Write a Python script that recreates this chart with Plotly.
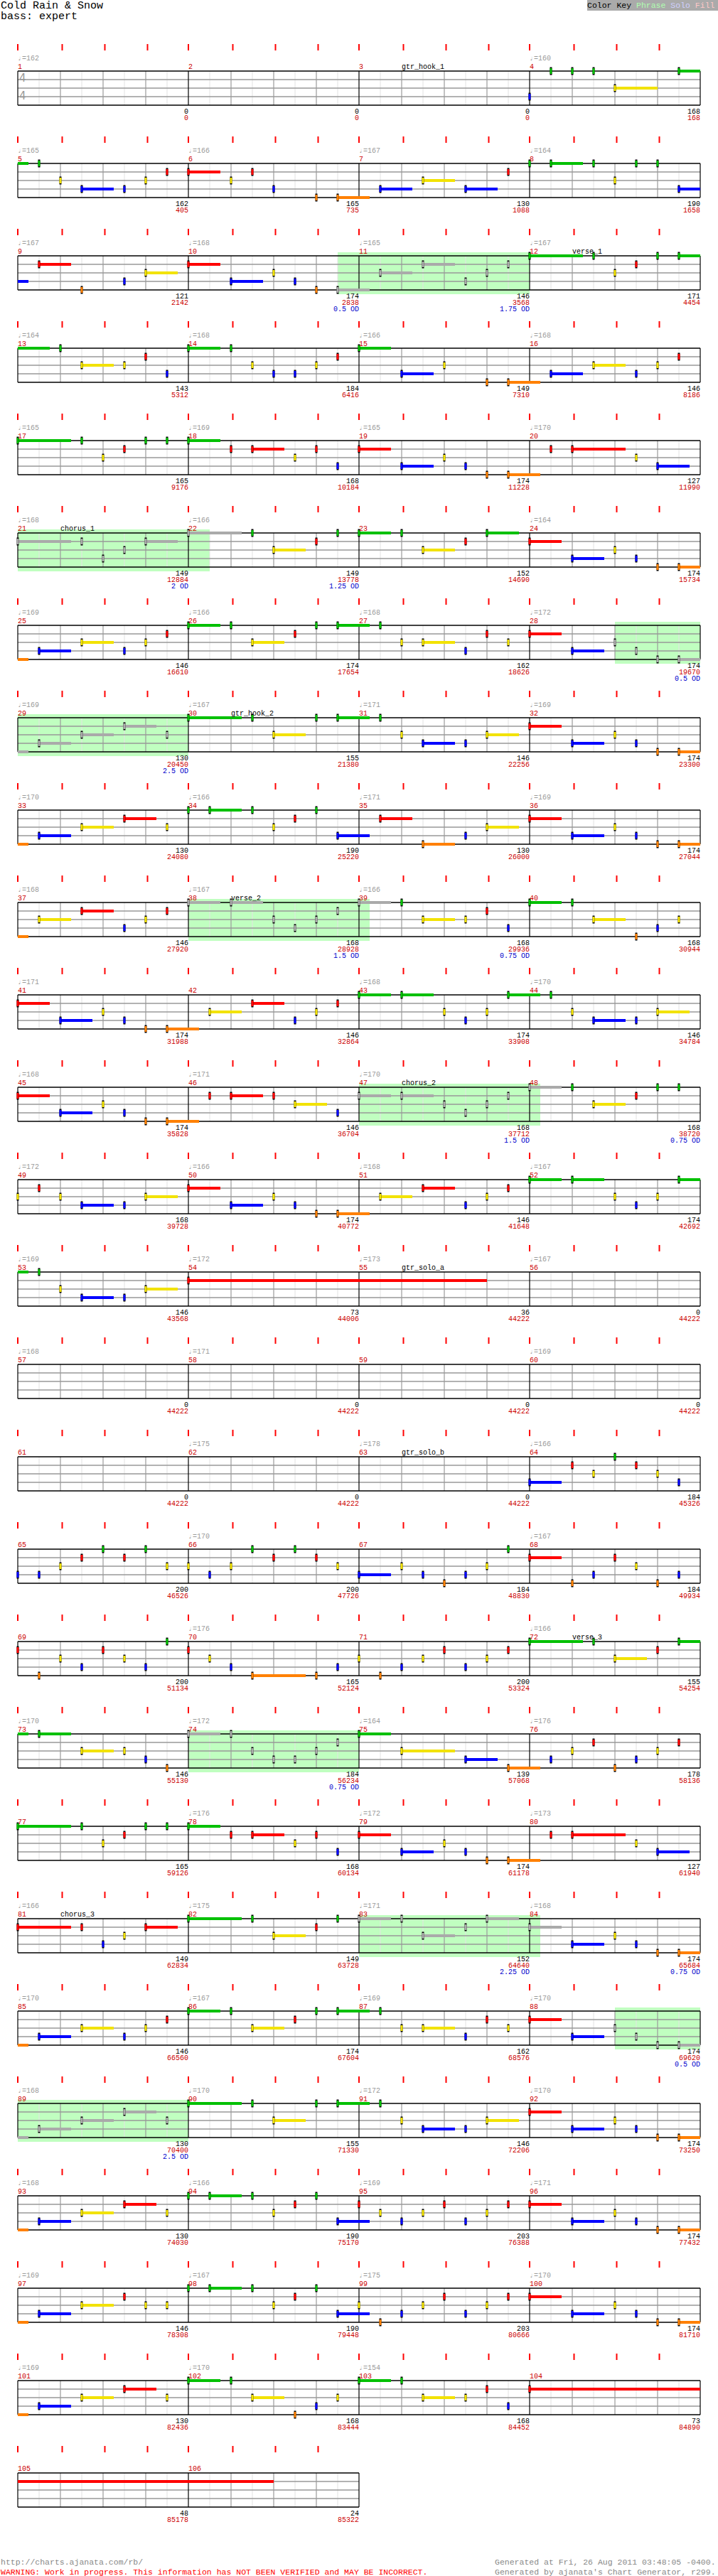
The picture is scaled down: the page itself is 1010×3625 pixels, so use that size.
import plotly.graph_objects as go
from collections import OrderedDict

# ---------------- DATA ----------------
TITLE = "Cold Rain & Snow"
SUBTITLE = "bass: expert"
N_MEASURES = 106

TEMPOS = [162, None, None, 160, 165, 166, 167, 164, 167, 168, 165, 167,
          164, 168, 166, 168, 165, 169, 165, 170, 168, 166, None, 164,
          169, 166, 168, 172, 169, 167, 171, 169, 170, 166, 171, 169,
          168, 167, 166, None, 171, None, 168, 170, 168, 171, 170, None,
          172, 166, 168, 167, 169, 172, 173, 167, 168, 171, None, 169,
          None, 175, 178, 166, None, 170, None, 167, None, 176, None, 166,
          170, 172, 164, 176, None, 176, 172, 173, 166, 175, 171, 168,
          170, 167, 169, 170, 168, 170, 172, 170, 168, 166, 169, 171,
          169, 167, 175, 170, 169, 170, 154, None, None, None]

MEASURE_SCORE = [0, 0, 0, 168, 162, 165, 130, 190, 121, 174, 146, 171,
                 143, 184, 149, 146, 165, 168, 174, 127, 149, 149, 152, 174,
                 146, 174, 162, 174, 130, 155, 146, 174, 130, 190, 130, 174,
                 146, 168, 168, 168, 174, 146, 174, 146, 174, 146, 168, 168,
                 168, 174, 146, 174, 146, 73, 36, 0, 0, 0, 0, 0,
                 0, 0, 0, 184, 200, 200, 184, 184, 200, 165, 200, 155,
                 146, 184, 139, 178, 165, 168, 174, 127, 149, 149, 152, 174,
                 146, 174, 162, 174, 130, 155, 146, 174, 130, 190, 203, 174,
                 146, 190, 203, 174, 130, 168, 168, 73, 48, 24]

TOTAL_SCORE = [0, 0, 0, 168, 405, 735, 1088, 1658, 2142, 2838, 3568, 4454,
               5312, 6416, 7310, 8186, 9176, 10184, 11228, 11990, 12884, 13778, 14690, 15734,
               16610, 17654, 18626, 19670, 20450, 21380, 22256, 23300, 24080, 25220, 26000, 27044,
               27920, 28928, 29936, 30944, 31988, 32864, 33908, 34784, 35828, 36704, 37712, 38720,
               39728, 40772, 41648, 42692, 43568, 44006, 44222, 44222, 44222, 44222, 44222, 44222,
               44222, 44222, 44222, 45326, 46526, 47726, 48830, 49934, 51134, 52124, 53324, 54254,
               55130, 56234, 57068, 58136, 59126, 60134, 61178, 61940, 62834, 63728, 64640, 65684,
               66560, 67604, 68576, 69620, 70400, 71330, 72206, 73250, 74030, 75170, 76388, 77432,
               78308, 79448, 80666, 81710, 82436, 83444, 84452, 84890, 85178, 85322]

OD_TEXT = {10: "0.5 OD", 11: "1.75 OD", 21: "2 OD", 22: "1.25 OD", 28: "0.5 OD",
           29: "2.5 OD", 38: "1.5 OD", 39: "0.75 OD", 47: "1.5 OD", 48: "0.75 OD",
           74: "0.75 OD", 83: "2.25 OD", 84: "0.75 OD", 88: "0.5 OD", 89: "2.5 OD"}

SECTIONS = [(3, "gtr_hook_1"), (12, "verse_1"), (21, "chorus_1"), (30, "gtr_hook_2"),
            (38, "verse_2"), (47, "chorus_2"), (55, "gtr_solo_a"), (63, "gtr_solo_b"),
            (72, "verse_3"), (81, "chorus_3")]

# overdrive phrases: (measure, eighth) start -> (measure, eighth) end
OD_PHRASES = [((10, 7), (12, 0)), ((21, 0), (22, 1)), ((28, 4), (30, 0)),
              ((38, 0), (39, 0.5)), ((47, 0), (48, 0.5)), ((74, 0), (75, 0)),
              ((83, 0), (84, 0.5)), ((88, 4), (90, 0))]

# notes per measure: <fret><eighth>[:sustain in eighths]
NOTES = {
    4: "B0 G1 G2 G3 Y4:2 G7:1.5",
    5: "G1 Y2 B3:1.5 B5 Y6 R7",
    6: "R0:1.5 Y2 R3 B4 O6 O7:1.5",
    7: "B1:1.5 Y3:1.5 B5:1.5 R7",
    8: "G0 G1:1.5 G3 Y4 G5 G6 B7:1.5",
    9: "R1:1.5 O3 B5 Y6:1.5",
    10: "R0:1.5 B2:1.5 Y4 B5 O6 O7:1.5",
    11: "Y1:1.5 R3:1.5 B5 Y6 R7",
    12: "G0:2.5 G3 Y4 R5 G6 G7:2.5",
    13: "G2 Y3:1.5 Y5 R6 B7",
    14: "G0:1.5 G2 Y3 B4 B5 Y6 R7",
    15: "G0:1.5 B2:1.5 Y4 O6 O7:1.5",
    16: "B1:1.5 Y3:1.5 B5 Y6 R7",
    17: "G0:2.5 G3 Y4 R5 G6 G7",
    18: "G0:1.5 R2 R3:1.5 Y5 R6 B7",
    19: "R0:1.5 B2:1.5 Y4 B5 O6 O7:1.5",
    20: "R1 R2:2.5 Y5 B6:1.5",
    21: "R0:2.5 R3 B4 Y5 R6:1.5",
    22: "G0:2.5 G3 Y4:1.5 R6 G7",
    23: "G0:1.5 G2 Y3:1.5 R5 G6:1.5",
    24: "R0:1.5 B2:1.5 Y4 B5 O6 O7:1.5",
    25: "B1:1.5 Y3:1.5 B5 Y6 R7",
    26: "G0:1.5 G2 Y3:1.5 R5 G6 G7:1.5",
    27: "G1 Y2 Y3:1.5 B5 R6 Y7",
    28: "R0:1.5 B2:1.5 Y4 B5 O6 O7:1.5",
    29: "B1:1.5 Y3:1.5 R5:1.5 Y7",
    30: "G0:2.5 G3 Y4:1.5 G6 G7:1.5",
    31: "G1 Y2 B3:1.5 B5 Y6:1.5",
    32: "R0:1.5 B2:1.5 Y4 B5 O6 O7:1.5",
    33: "B1:1.5 Y3:1.5 R5:1.5 Y7",
    34: "G0 G1:1.5 G3 Y4 R5 G6 B7:1.5",
    35: "R1:1.5 O3:1.5 B5 Y6:1.5",
    36: "R0:1.5 B2:1.5 Y4 B5 O6 O7:1.5",
    37: "Y1:1.5 R3:1.5 B5 Y6 R7",
    38: "G0:1.5 G2:1.5 Y4 B5 Y6 R7",
    39: "G0:1.5 G2 Y3:1.5 Y5 R6 B7",
    40: "G0:1.5 G2 Y3:1.5 O5 B6 Y7",
    41: "R0:1.5 B2:1.5 Y4 B5 O6 O7:1.5",
    42: "Y1:1.5 R3:1.5 B5 Y6 R7",
    43: "G0:1.5 G2:1.5 Y4 B5 Y6 G7:1.5",
    44: "G1 Y2 B3:1.5 B5 Y6:1.5",
    45: "R0:1.5 B2:1.5 Y4 B5 O6 O7:1.5",
    46: "R1 R2:1.5 R4 Y5:1.5 B7",
    47: "R0:1.5 R2:1.5 Y4 B5 Y6 R7",
    48: "G0:1.5 G2 Y3:1.5 R5 G6 G7",
    49: "Y0 R1 Y2 B3:1.5 B5 Y6:1.5",
    50: "R0:1.5 B2:1.5 Y4 B5 O6 O7:1.5",
    51: "Y1:1.5 R3:1.5 B5 Y6 R7",
    52: "G0:1.5 G2:1.5 Y4 B5 Y6 G7:1.5",
    53: "G1 Y2 B3:1.5 B5 Y6:1.5",
    54: "R0:14",
    64: "B0:1.5 R2 Y3 G4 R5 Y6 B7",
    65: "B0 B1 Y2 R3 G4 R5 G6 Y7",
    66: "Y0 B1 Y2 G3 R4 G5 R6 Y7",
    67: "B0:1.5 Y2 B3 O4 B5 Y6 G7",
    68: "R0:1.5 O2 B3 R4 Y5 O6 B7",
    69: "R0 O1 Y2 B3 R4 Y5 B6 G7",
    70: "R0 Y1 B2 O3:2.5 O6 B7",
    71: "Y0 O1 B2 Y3 R4 B5 Y6 R7",
    72: "G0:2.5 G3 Y4:1.5 R6 G7:1.5",
    73: "G1:1.5 Y3:1.5 Y5 B6 O7",
    74: "G0:1.5 G2 Y3 B4 B5 Y6 R7",
    75: "G0:1.5 Y2:2.5 B5:1.5 O7:1.5",
    76: "B1 Y2 R3 O4 B5 Y6 R7",
    77: "G0:2.5 G3 Y4 R5 G6 G7",
    78: "G0:1.5 R2 R3:1.5 Y5 R6 B7",
    79: "R0:1.5 B2:1.5 Y4 B5 O6 O7:1.5",
    80: "R1 R2:2.5 Y5 B6:1.5",
    81: "R0:2.5 R3 B4 Y5 R6:1.5",
    82: "G0:2.5 G3 Y4:1.5 R6 G7",
    83: "G0:1.5 G2 Y3:1.5 R5 G6:1.5",
    84: "R0:1.5 B2:1.5 Y4 B5 O6 O7:1.5",
    85: "B1:1.5 Y3:1.5 B5 Y6 R7",
    86: "G0:1.5 G2 Y3:1.5 R5 G6 G7:1.5",
    87: "G1 Y2 Y3:1.5 B5 R6 Y7",
    88: "R0:1.5 B2:1.5 Y4 B5 O6 O7:1.5",
    89: "B1:1.5 Y3:1.5 R5:1.5 Y7",
    90: "G0:2.5 G3 Y4:1.5 G6 G7:1.5",
    91: "G1 Y2 B3:1.5 B5 Y6:1.5",
    92: "R0:1.5 B2:1.5 Y4 B5 O6 O7:1.5",
    93: "B1:1.5 Y3:1.5 R5:1.5 Y7",
    94: "G0 G1:1.5 G3 Y4 R5 G6 B7:1.5",
    95: "R0 Y1 B2 Y3 R4 B5 Y6 R7",
    96: "R0:1.5 B2:1.5 Y4 B5 O6 O7:1.5",
    97: "B1:1.5 Y3:1.5 R5 Y6 Y7",
    98: "G0 G1:1.5 G3 Y4 R5 G6 B7:1.5",
    99: "Y0 O1 B2 Y3 R4 B5 Y6 R7",
    100: "R0:1.5 B2:1.5 Y4 B5 O6 O7:1.5",
    101: "B1:1.5 Y3:1.5 R5:1.5 Y7",
    102: "G0:1.5 G2 Y3:1.5 O5 B6 Y7",
    103: "G0:1.5 G2 Y3:1.5 Y5 R6 B7",
    104: "R0:20",
}

FRET_COLORS = {"G": "#00c000", "R": "#ff0000", "Y": "#f2e200", "B": "#0000ff", "O": "#ff8000"}
FRET_LANE = {"G": 0, "R": 1, "Y": 2, "B": 3, "O": 4}
OD_NOTE_COLOR = "#aaaaaa"

# ---------------- LAYOUT CONSTANTS ----------------
W, H = 1010, 3625
X0, MW = 25, 240
E8 = MW / 8.0
ROW0, ROWH, LANE = 100, 130, 12
PER_ROW = 4
MONO = "Liberation Mono, DejaVu Sans Mono, monospace"


def gtime(m, p):
    return (m - 1) * 8 + p


def row_of(t):
    return int(t // (PER_ROW * 8))


def xy(t, lane=0, row=None):
    r = row_of(t) if row is None else row
    x = X0 + (t - r * PER_ROW * 8) * E8
    y = ROW0 + r * ROWH + lane * LANE
    return x, y


layers = OrderedDict((k, OrderedDict()) for k in ["grid", "gridmid", "gridstrong", "ticks", "sus", "heads"])


def seg(layer, color, width, x0, y0, x1, y1):
    d = layers[layer].setdefault((color, width), ([], []))
    d[0].extend([x0, x1, None])
    d[1].extend([y0, y1, None])


shapes = []
ann = []


def text(x, y, s, color="#000", size=10, anchor="left", family=MONO):
    ann.append(dict(x=x, y=y, text=s, showarrow=False, xanchor=anchor, yanchor="middle",
                    font=dict(family=family, size=size, color=color), xref="x", yref="y",
                    borderpad=0))


n_rows = (N_MEASURES + PER_ROW - 1) // PER_ROW

# OD phrase boxes
od_ranges = []
for (ms, ps), (me, pe) in OD_PHRASES:
    t0, t1 = gtime(ms, ps), gtime(me, pe)
    od_ranges.append((t0, t1))
    t = t0
    while t < t1:
        r = row_of(t)
        tend = min(t1, (r + 1) * PER_ROW * 8)
        xa, ya = xy(t, 0, r)
        xb, _ = xy(tend, 0, r)
        shapes.append(dict(type="rect", xref="x", yref="y", x0=xa, x1=xb, y0=ya - 5, y1=ya + 4 * LANE + 6,
                           fillcolor="#c0ffc0", line=dict(width=0), layer="below"))
        t = tend

for r in range(n_rows):
    first = r * PER_ROW + 1
    nm = min(PER_ROW, N_MEASURES - first + 1)
    top = ROW0 + r * ROWH
    bot = top + 4 * LANE
    left = X0
    right = X0 + nm * MW
    # vertical grid
    for k in range(nm * 8 + 1):
        x = X0 + k * E8
        if k % 8 == 0:
            seg("gridstrong", "#000000", 1.2, x, top, x, bot)
        elif k % 2 == 0:
            seg("gridmid", "#999999", 1.2, x, top, x, bot)
        else:
            seg("grid", "#e2e2e2", 1, x, top, x, bot)
    # horizontal lanes
    for ln in range(5):
        y = top + ln * LANE
        if ln in (0, 4):
            seg("gridstrong", "#000000", 1.6, left, y, right, y)
        else:
            seg("gridmid", "#999999", 1.6, left, y, right, y)
    # red beat ticks
    for k in range(nm * 4):
        x = X0 + k * 2 * E8 + (0 if k % 4 == 0 else 2.5)
        seg("ticks", "#ff0000", 2, x, top - 38, x, top - 29)
    # per-measure text
    for c in range(nm):
        m = first + c
        xs = X0 + c * MW
        xe = xs + MW
        if TEMPOS[m - 1] is not None:
            text(xs - 1, top - 18, "\u2669=%d" % TEMPOS[m - 1], color="#9a9a9a", size=10)
        text(xs - 1, top - 6, str(m), color="#cc0000", size=10)
        if MEASURE_SCORE[m - 1] is not None:
            text(xe + 1, bot + 9, str(MEASURE_SCORE[m - 1]), color="#000000", size=10, anchor="right")
        if TOTAL_SCORE[m - 1] is not None:
            text(xe + 1, bot + 18, str(TOTAL_SCORE[m - 1]), color="#cc0000", size=10, anchor="right")
        if m in OD_TEXT:
            text(xe + 1, bot + 27, OD_TEXT[m], color="#0000cc", size=10, anchor="right")

for m, name in SECTIONS:
    x, y = xy(gtime(m, 2))
    text(x - 1, y - 6, name, color="#000000", size=10)


def in_od(t):
    return any(a <= t < b for a, b in od_ranges)


for m, spec in NOTES.items():
    for tok in spec.split():
        fret = tok[0]
        if ":" in tok:
            pos, sus = tok[1:].split(":")
            pos, sus = float(pos), float(sus)
        else:
            pos, sus = float(tok[1:]), 0.0
        t = gtime(m, pos)
        lane = FRET_LANE[fret]
        col = OD_NOTE_COLOR if in_od(t) else FRET_COLORS[fret]
        if sus > 0:
            ts, te = t, t + sus
            while ts < te:
                r = row_of(ts)
                tend = min(te, (r + 1) * PER_ROW * 8)
                xa, ya = xy(ts, lane, r)
                xb, _ = xy(tend, lane, r)
                seg("sus", col, 4, xa, ya, xb, ya)
                ts = tend
        x, y = xy(t, lane)
        seg("heads", "#000000", 3, x, y - 5.5, x, y + 5.5)
        seg("heads", col, 3, x, y - 4, x, y + 4)

fig = go.Figure()
for lname, groups in layers.items():
    for (color, width), (xs, ys) in groups.items():
        fig.add_trace(go.Scatter(x=xs, y=ys, mode="lines", line=dict(color=color, width=width),
                                 hoverinfo="skip", showlegend=False, cliponaxis=False))

# time signature
text(X0 + 1, ROW0 + 10, "4", color="#999999", size=15, family="DejaVu Sans")
text(X0 + 1, ROW0 + 35, "4", color="#999999", size=15, family="DejaVu Sans")

# title
text(0, 8, TITLE, size=15)
text(0, 23, SUBTITLE, size=15)

# color key
shapes.append(dict(type="rect", xref="x", yref="y", x0=826, x1=1010, y0=0, y1=15,
                   fillcolor="#aaaaaa", line=dict(width=0), layer="below"))
ann.append(dict(x=1008, y=7.5, xref="x", yref="y", showarrow=False, xanchor="right", yanchor="middle",
                text="<span style='color:#000'>Color Key </span><span style='color:#b0ffb0'>Phrase </span>"
                     "<span style='color:#d0d0ff'>Solo </span><span style='color:#ffc8c8'>Fill</span>",
                font=dict(family=MONO, size=11.5, color="#000")))

# footer
text(0, 3605, "http://charts.ajanata.com/rb/", color="#888888", size=11.5)
text(0, 3619, "WARNING: Work in progress. This information has NOT BEEN VERIFIED and MAY BE INCORRECT.",
     color="#ff0000", size=11.5)
text(1008, 3605, "Generated at Fri, 26 Aug 2011 03:48:05 -0400.", color="#888888", size=11.5, anchor="right")
text(1008, 3619, "Generated by ajanata's Chart Generator, r299.", color="#888888", size=11.5, anchor="right")

fig.update_layout(
    width=W, height=H, margin=dict(l=0, r=0, t=0, b=0),
    paper_bgcolor="#ffffff", plot_bgcolor="#ffffff",
    xaxis=dict(range=[0, W], visible=False, fixedrange=True),
    yaxis=dict(range=[H, 0], visible=False, fixedrange=True),
    shapes=shapes, annotations=ann, showlegend=False,
)

fig.write_html("out.html", config={"displayModeBar": False, "staticPlot": True},
               post_script="document.body.style.margin='0';document.body.style.overflow='hidden';")
